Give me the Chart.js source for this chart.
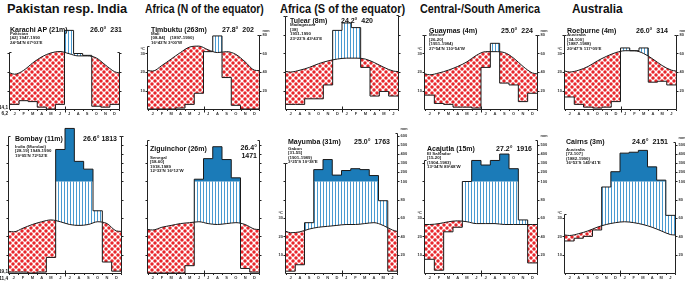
<!DOCTYPE html>
<html>
<head>
<meta charset="utf-8">
<script src="https://cdn.jsdelivr.net/npm/chart.js@4.4.0/dist/chart.umd.min.js"></script>
<style>
body { margin: 0; width: 685px; height: 284px; background: #fff; position: relative; overflow: hidden; font-family: "Liberation Sans", Arial, sans-serif; color: #111; }
canvas { position: absolute; }
.h { position: absolute; top: 1px; font-size: 13px; line-height: 15px; font-weight: bold; white-space: nowrap; transform-origin: 0 0; }
.t { position: absolute; font-size: 7px; line-height: 8px; font-weight: bold; white-space: pre; }
.r { text-align: right; }
.i { position: absolute; font-size: 4.4px; line-height: 4.5px; font-weight: bold; white-space: pre; color: #222; }
.m { position: absolute; font-size: 4.6px; line-height: 5px; font-weight: bold; text-align: right; width: 10px; }
</style>
</head>
<body>
<div class="h" data-w="120" style="left:7px">Pakistan resp. India</div>
<div class="h" data-w="119" style="left:145px">Africa (N of the equator)</div>
<div class="h" data-w="125" style="left:280px">Africa (S of the equator)</div>
<div class="h" data-w="120" style="left:420px">Central-/South America</div>
<div class="h" data-w="51" style="left:572px">Australia</div>

<div id="charts"></div>

<div class="t" style="left:10px;top:26px">Karachi AP (21m)</div>
<div class="t r" style="right:563px;top:26px">26.0°  231</div>
<div class="i" style="left:10px;top:31.5px">Pakistan
[42] 1947-1990
24°54'N 67°03'E</div>
<div class="m" style="left:-2px;top:104.5px">14,1</div>
<div class="m" style="left:-2px;top:110.5px">6,2</div>

<div class="t" style="left:151px;top:26px">Timbuktu (263m)</div>
<div class="t r" style="right:431px;top:26px">27.8°  202</div>
<div class="i" style="left:151px;top:31.5px">Mali
[08-84]    (1897-1990)
16°43'N 3°00'W</div>

<div class="t" style="left:290px;top:17px">Tulear (8m)</div>
<div class="t r" style="right:312px;top:17px">24.2°  420</div>
<div class="i" style="left:290px;top:23px">Madagascar
[38]
1951-1990
23°23'S 43°43'E</div>

<div class="t" style="left:429px;top:27px">Guaymas (4m)</div>
<div class="t r" style="right:152px;top:27px">25.0°  224</div>
<div class="i" style="left:429px;top:33px">Mexico
[26-20]
(1951-1984)
27°54'N 110°54'W</div>

<div class="t" style="left:567px;top:27px">Roeburne (4m)</div>
<div class="t r" style="right:17px;top:27px">26.0°  314</div>
<div class="i" style="left:567px;top:33px">Australia
[34-100]
(1887-1988)
20°47'S 117°09'E</div>

<div class="t" style="left:15px;top:135px">Bombay (11m)</div>
<div class="t r" style="right:568px;top:135px">26.6° 1813</div>
<div class="i" style="left:15px;top:144.5px">India (Mumbai)
[28-19] 1949-1990
19°05'N 72°52'E</div>
<div class="m" style="left:-2px;top:268.5px">19,1</div>
<div class="m" style="left:-2px;top:275.5px">11,4</div>

<div class="t" style="left:150px;top:145px">Ziguinchor (26m)</div>
<div class="t r" style="right:428px;top:144px">26.4°
1471</div>
<div class="i" style="left:150px;top:155.5px">Senegal
[58-60]
1918-1989
12°33'N 16°12'W</div>

<div class="t" style="left:288px;top:138px">Mayumba (31m)</div>
<div class="t r" style="right:295px;top:138px">25.0°  1763</div>
<div class="i" style="left:288px;top:146.5px">Gabon
[31-55]
(1901-1989)
3°25'S 10°38'E</div>

<div class="t" style="left:427px;top:145px">Acajutla (15m)</div>
<div class="t r" style="right:153px;top:145px">27.2°  1916</div>
<div class="i" style="left:427px;top:151.5px">El Salvador
[15-20]
(1904-1983)
13°34'N 89°48'W</div>

<div class="t" style="left:566px;top:138px">Cairns (3m)</div>
<div class="t r" style="right:17px;top:138px">24.6°  2151</div>
<div class="i" style="left:566px;top:147.5px">Australia
[72-107]
(1882-1990)
16°53'S 145°41'E</div>

<script>
// month letters (north: Jan first, south: Jul first)
var monthsNorth = ["J", "F", "M", "A", "M", "J", "J", "A", "S", "O", "N", "D"];
var monthsSouth = ["J", "A", "S", "O", "N", "D", "J", "F", "M", "A", "M", "J"];

// mean monthly temperature (°C) and precipitation (mm)
var karachiTemp = [18.8, 20.9, 24.9, 28.2, 30.3, 31.1, 29.9, 28.7, 28.7, 27.6, 23.8, 20.2];
var karachiRain = [5, 9, 8, 2, 0, 5, 85, 60, 58, 3, 2, 5];

var timbuktuTemp = [20.5, 23.5, 27, 30.5, 33.5, 34, 32, 30.5, 31, 29.5, 25.5, 21];
var timbuktuRain = [0, 0, 0, 1, 5, 17, 62, 79, 34, 4, 0, 0];

var tulearTemp = [20, 21, 22.5, 24.5, 26, 27, 27.5, 27.5, 27, 25, 22.5, 20.5];
var tulearRain = [5, 5, 11, 11, 26, 85, 93, 88, 45, 14, 19, 14];

var guaymasTemp = [18.5, 19.5, 21, 23, 25.5, 29, 31, 31, 30.5, 27.5, 23, 19.5];
var guaymasRain = [15, 6, 5, 2, 2, 1, 45, 71, 28, 26, 8, 17];

var roeburneTemp = [20, 21, 23, 26, 28.5, 30.5, 31.5, 31.5, 30, 27, 23.5, 21];
var roeburneRain = [13, 5, 2, 1, 2, 8, 66, 63, 66, 29, 30, 26];

var bombayTemp = [22.5, 24.5, 26.5, 28, 29, 28, 26.5, 26, 26.5, 28, 27, 23];
var bombayRain = [1, 1, 0, 1, 17, 450, 680, 320, 235, 68, 12, 2];

var ziguinchorTemp = [23.5, 25, 26, 27, 27.5, 28, 27, 26.5, 27, 27.5, 26.5, 24];
var ziguinchorRain = [0, 0, 0, 0, 8, 125, 350, 480, 340, 140, 5, 1];

var mayumbaTemp = [22, 22.5, 24, 25, 25.5, 26, 26.5, 26.5, 27, 27.5, 26, 23.5];
var mayumbaRain = [2, 9, 55, 230, 340, 170, 220, 240, 230, 165, 79, 2];

var acajutlaTemp = [26.5, 27, 28, 28.5, 28, 27, 27, 27, 26.5, 26.5, 26.5, 26.5];
var acajutlaRain = [15, 3, 45, 50, 100, 330, 280, 330, 400, 240, 58, 11];

var cairnsTemp = [20.5, 21.5, 23, 25, 26.5, 27.5, 28, 27.5, 26.5, 25, 23, 21];
var cairnsRain = [35, 38, 40, 47, 94, 207, 410, 420, 440, 260, 115, 63];

// rows: baseline y, px per mm, top of plot area, canvas top/height
var rows = [
    {base: 109, k: 0.925, top: 12, canvasTop: 0, canvasH: 120},
    {base: 273, k: 0.915, top: 125, canvasTop: 120, canvasH: 164}
];

var panels = [
    {temp: karachiTemp, rain: karachiRain, months: monthsNorth, left: 10, right: 119, row: 0, leftTop: 62, rightTop: 62, labels: false},
    {temp: timbuktuTemp, rain: timbuktuRain, months: monthsNorth, left: 148, right: 259, row: 0, leftTop: 68, rightTop: 80, labels: true},
    {temp: tulearTemp, rain: tulearRain, months: monthsSouth, left: 286, right: 398, row: 0, leftTop: 100, rightTop: 102, labels: false},
    {temp: guaymasTemp, rain: guaymasRain, months: monthsNorth, left: 425, right: 537, row: 0, leftTop: 80, rightTop: 80, labels: true},
    {temp: roeburneTemp, rain: roeburneRain, months: monthsSouth, left: 565, right: 676, row: 0, leftTop: 80, rightTop: 80, labels: true},
    {temp: bombayTemp, rain: bombayRain, months: monthsNorth, left: 9, right: 121, row: 1, leftTop: 150, rightTop: 150, labels: false},
    {temp: ziguinchorTemp, rain: ziguinchorRain, months: monthsNorth, left: 148, right: 259, row: 1, leftTop: 145, rightTop: 145, labels: false},
    {temp: mayumbaTemp, rain: mayumbaRain, months: monthsSouth, left: 286, right: 397, row: 1, leftTop: 120, rightTop: 153, labels: true},
    {temp: acajutlaTemp, rain: acajutlaRain, months: monthsNorth, left: 425, right: 537, row: 1, leftTop: 123, rightTop: 145, labels: true},
    {temp: cairnsTemp, rain: cairnsRain, months: monthsSouth, left: 565, right: 675, row: 1, leftTop: 65, rightTop: 143, labels: true}
];

// Walter-Lieth: 10 °C = 20 mm, above 100 mm the scale is 1:10
function rainScale(v) {
    return v <= 100 ? v : 100 + (v - 100) / 10;
}

function tempPoints(t) {
    var edge = (t[0] + t[11]) / 2;
    var pts = [{x: 0, y: edge * 2}];
    for (var i = 0; i < 12; i++) {
        pts.push({x: i + 0.5, y: t[i] * 2});
    }
    pts.push({x: 12, y: edge * 2});
    return pts;
}

// mode: "low" = capped at 100, "high" = only the part above 100, else full
function rainPoints(r, mode) {
    var pts = [];
    for (var i = 0; i <= 12; i++) {
        var v = rainScale(r[Math.min(i, 11)]);
        if (mode === "low") v = Math.min(v, 100);
        if (mode === "high") v = Math.max(v, 100);
        pts.push({x: i, y: v});
    }
    return pts;
}

function makePatterns(ctx) {
    var dot = document.createElement("canvas");
    dot.width = 6; dot.height = 6;
    var d = dot.getContext("2d");
    d.fillStyle = "#fff";
    d.fillRect(0, 0, 6, 6);
    d.fillStyle = "#e8262b";
    [[0, 0], [6, 0], [0, 6], [6, 6], [3, 3]].forEach(function (c) {
        d.beginPath();
        d.arc(c[0], c[1], 1.75, 0, Math.PI * 2);
        d.fill();
    });
    var stripe = document.createElement("canvas");
    stripe.width = 3; stripe.height = 2;
    var s = stripe.getContext("2d");
    s.fillStyle = "#fff";
    s.fillRect(0, 0, 3, 2);
    s.fillStyle = "#4a9bd1";
    s.fillRect(0, 0, 1, 2);
    return {dots: ctx.createPattern(dot, "repeat"), stripes: ctx.createPattern(stripe, "repeat")};
}

var climateAxes = {
    id: "climateAxes",
    afterDraw: function (chart) {
        var o = chart.options.plugins.climateAxes;
        var ctx = chart.ctx;
        var xs = chart.scales.x, ys = chart.scales.y;
        var L = Math.round(xs.getPixelForValue(0)) - 0.5;
        var R = Math.round(xs.getPixelForValue(12)) + 0.5;
        var B = Math.round(ys.getPixelForValue(0)) + 0.5;
        ctx.save();
        ctx.strokeStyle = "#222";
        ctx.fillStyle = "#333";
        ctx.lineWidth = 1;
        // baseline with month ticks
        ctx.beginPath();
        ctx.moveTo(L, B);
        ctx.lineTo(R, B);
        for (var m = 0; m <= 12; m++) {
            var mx = Math.round(xs.getPixelForValue(m)) + 0.5;
            ctx.moveTo(mx, B);
            ctx.lineTo(mx, B + (m === 6 ? 3 : 1.5));
            if (m === 6) {
                ctx.moveTo(mx, B);
                ctx.lineTo(mx, B - 3);
            }
        }
        ctx.stroke();
        // left (temperature) axis
        var lt = Math.round(ys.getPixelForValue(o.leftTop)) + 0.5;
        ctx.beginPath();
        ctx.moveTo(L, B);
        ctx.lineTo(L, lt);
        ctx.lineTo(L + 2, lt);
        for (var v = 20; v <= o.leftTop; v += 20) {
            var ty = Math.round(ys.getPixelForValue(v)) + 0.5;
            ctx.moveTo(L, ty);
            ctx.lineTo(L - 2, ty);
        }
        // right (precipitation) axis
        var rt = Math.round(ys.getPixelForValue(o.rightTop)) + 0.5;
        ctx.moveTo(R, B);
        ctx.lineTo(R, rt);
        ctx.lineTo(R - 2, rt);
        var rTicks = [20, 40, 60, 80, 100, 110, 120, 130, 140, 150];
        rTicks.forEach(function (t) {
            if (t <= o.rightTop) {
                var y = Math.round(ys.getPixelForValue(t)) + 0.5;
                ctx.moveTo(R, y);
                ctx.lineTo(R + 2, y);
            }
        });
        ctx.stroke();

        ctx.font = "bold 4px 'Liberation Sans', Arial";
        ctx.textBaseline = "middle";
        if (o.labels) {
            ctx.textAlign = "right";
            ["10", "20", "30"].forEach(function (lab, i) {
                var v = (i + 1) * 20;
                if (v <= o.leftTop) {
                    ctx.fillText(lab, L - 2.5, ys.getPixelForValue(v));
                }
            });
            if (o.leftTop >= 60) {
                ctx.fillText("°C", L - 2.5, ys.getPixelForValue(60) - 5);
            }
            ctx.textAlign = "left";
            var rLabels = ["20", "40", "60", "80", "100", "200", "300", "400", "500", "600"];
            rTicks.forEach(function (t, i) {
                if (t <= o.rightTop) {
                    ctx.fillText(rLabels[i], R + 3, ys.getPixelForValue(t));
                }
            });
            ctx.fillText("mm", R + 3, ys.getPixelForValue(o.rightTop) - 4);
        }
        // month letters
        ctx.textAlign = "center";
        for (var j = 0; j < 12; j++) {
            ctx.fillText(o.months[j], xs.getPixelForValue(j + 0.5), B + 4.5);
        }
        ctx.restore();
    }
};

var holder = document.getElementById("charts");
panels.forEach(function (p) {
    var row = rows[p.row];
    var pad = 14;
    var canvas = document.createElement("canvas");
    canvas.width = p.right - p.left + pad * 2;
    canvas.height = row.canvasH;
    canvas.style.left = (p.left - pad) + "px";
    canvas.style.top = row.canvasTop + "px";
    holder.appendChild(canvas);
    var ctx = canvas.getContext("2d");
    var pat = makePatterns(ctx);
    var yMax = (row.base - row.top) / row.k;
    new Chart(ctx, {
        type: "line",
        data: {
            datasets: [
                {   // temperature curve
                    data: tempPoints(p.temp),
                    borderColor: "#1a1a1a",
                    borderWidth: 1,
                    cubicInterpolationMode: "monotone",
                    pointRadius: 0,
                    fill: false,
                    order: 0
                },
                {   // precipitation up to 100 mm: humid stripes / arid dots
                    data: rainPoints(p.rain, "low"),
                    stepped: true,
                    borderColor: "rgba(0,0,0,0)",
                    pointRadius: 0,
                    fill: {target: 0, above: pat.stripes, below: pat.dots},
                    order: 3
                },
                {   // part above 100 mm (scale 1:10), solid blue
                    data: rainPoints(p.rain, "high"),
                    stepped: true,
                    borderColor: "rgba(0,0,0,0)",
                    backgroundColor: "#1b7bb8",
                    pointRadius: 0,
                    fill: {value: 100},
                    order: 2
                },
                {   // precipitation outline
                    data: rainPoints(p.rain, "full"),
                    stepped: true,
                    borderColor: "#1a1a1a",
                    borderWidth: 1,
                    pointRadius: 0,
                    fill: false,
                    order: 1
                }
            ]
        },
        options: {
            responsive: false,
            animation: false,
            events: [],
            devicePixelRatio: 1,
            layout: {padding: {left: pad, right: pad, top: row.top - row.canvasTop, bottom: row.canvasTop + row.canvasH - row.base}},
            scales: {
                x: {type: "linear", min: 0, max: 12, display: false},
                y: {type: "linear", min: 0, max: yMax, display: false}
            },
            plugins: {
                legend: {display: false},
                tooltip: {enabled: false},
                climateAxes: {months: p.months, leftTop: p.leftTop, rightTop: p.rightTop, labels: p.labels}
            }
        },
        plugins: [climateAxes]
    });
});

// squeeze the column headers to the width they take in the figure
document.querySelectorAll(".h").forEach(function (el) {
    var w = parseFloat(el.getAttribute("data-w"));
    el.style.transform = "scaleX(" + (w / el.scrollWidth) + ")";
});
</script>
</body>
</html>
